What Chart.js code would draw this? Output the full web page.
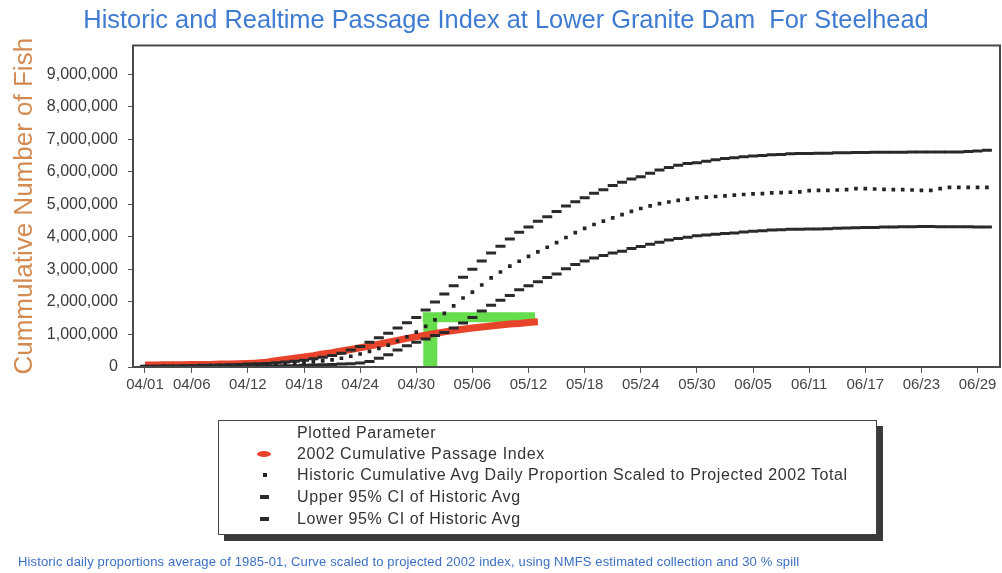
<!DOCTYPE html>
<html>
<head>
<meta charset="utf-8">
<script src="https://cdn.jsdelivr.net/npm/chart.js@4.4.0/dist/chart.umd.min.js"></script>
<style>
  body { margin: 0; background: #fff; font-family: "Liberation Sans", Arial, sans-serif; }
  #wrap { position: relative; width: 1002px; height: 573px; overflow: hidden; }
  #chart { position: absolute; left: 0; top: 0; }
  #legend { position: absolute; left: 218px; top: 420px; width: 659px; height: 115px; box-sizing: border-box;
            border: 1px solid #444; box-shadow: 6px 6px 0 #3a3a3a; background: #fff; font-size: 16px;
            letter-spacing: 0.6px; color: #333; }
  #legend .row { position: absolute; left: 78px; height: 20px; line-height: 20px; white-space: nowrap; }
  #legend .sym { position: absolute; }
  #note { position: absolute; left: 18px; top: 554px; font-size: 13px; letter-spacing: 0.15px; color: #3b6fc2; white-space: nowrap; }
</style>
</head>
<body>
<div id="wrap">
  <canvas id="chart" width="1002" height="573"></canvas>
  <div id="legend"></div>
  <div id="note"></div>
</div>
<script>
// values in millions of fish, one per day starting 04/01
const chartTitle = "Historic and Realtime Passage Index at Lower Granite Dam  For Steelhead";
const yTitle = "Cummulative Number of Fish";
const legendTitle = "Plotted Parameter";
const footNote = "Historic daily proportions average of 1985-01, Curve scaled to projected 2002 index, using NMFS estimated collection and 30 % spill";
const seriesNames = [
  "2002 Cumulative Passage Index",
  "Historic Cumulative Avg Daily Proportion Scaled to Projected 2002 Total",
  "Upper 95% CI of Historic Avg",
  "Lower 95% CI of Historic Avg"
];

const xTickLabels = ["04/01","04/06","04/12","04/18","04/24","04/30","05/06","05/12",
                     "05/18","05/24","05/30","06/05","06/11","06/17","06/23","06/29"];
const yTicks = [0,1,2,3,4,5,6,7,8,9];

const passage2002 = [0.06,0.06,0.07,0.07,0.07,0.08,0.08,0.08,0.09,0.09,
  0.10,0.11,0.12,0.15,0.19,0.23,0.27,0.31,0.35,0.40,
  0.44,0.49,0.54,0.59,0.64,0.70,0.76,0.82,0.88,0.93,
  0.98,1.03,1.08,1.12,1.16,1.20,1.23,1.26,1.29,1.32,
  1.34,1.37,1.39];

const historicAvg = [0.01,0.01,0.02,0.02,0.02,0.03,0.03,0.04,0.04,0.05,
  0.05,0.06,0.07,0.08,0.09,0.10,0.12,0.14,0.16,0.19,
  0.22,0.27,0.33,0.40,0.48,0.57,0.67,0.80,0.93,1.07,
  1.25,1.45,1.65,1.88,2.12,2.30,2.52,2.74,2.92,3.10,
  3.25,3.40,3.54,3.68,3.82,3.98,4.13,4.26,4.38,4.48,
  4.58,4.68,4.78,4.87,4.95,5.02,5.07,5.12,5.16,5.20,
  5.22,5.24,5.26,5.28,5.30,5.32,5.33,5.35,5.36,5.37,
  5.38,5.42,5.43,5.43,5.44,5.45,5.48,5.48,5.47,5.46,
  5.45,5.45,5.44,5.43,5.43,5.48,5.52,5.52,5.52,5.52,5.52];

const upperCI = [0.02,0.02,0.03,0.03,0.04,0.04,0.05,0.05,0.06,0.07,
  0.08,0.09,0.10,0.11,0.13,0.15,0.18,0.21,0.25,0.30,
  0.35,0.42,0.52,0.63,0.76,0.90,1.04,1.20,1.36,1.52,
  1.75,2.00,2.24,2.50,2.76,3.00,3.26,3.50,3.71,3.93,
  4.14,4.30,4.48,4.62,4.78,4.95,5.08,5.20,5.34,5.45,
  5.58,5.68,5.78,5.85,5.95,6.05,6.13,6.20,6.25,6.28,
  6.32,6.37,6.41,6.43,6.46,6.48,6.50,6.52,6.53,6.55,
  6.56,6.56,6.57,6.57,6.58,6.58,6.59,6.59,6.60,6.60,
  6.60,6.60,6.61,6.61,6.61,6.61,6.61,6.61,6.62,6.64,6.66];

const lowerCI = [0.00,0.00,0.01,0.01,0.01,0.01,0.01,0.01,0.02,0.02,
  0.02,0.02,0.02,0.03,0.03,0.04,0.04,0.05,0.06,0.07,
  0.08,0.09,0.10,0.12,0.17,0.27,0.38,0.52,0.65,0.76,
  0.86,0.97,1.06,1.20,1.35,1.52,1.72,1.90,2.05,2.20,
  2.37,2.50,2.62,2.75,2.86,3.02,3.15,3.26,3.35,3.43,
  3.50,3.56,3.64,3.70,3.77,3.83,3.90,3.95,3.99,4.03,
  4.06,4.08,4.10,4.12,4.15,4.17,4.19,4.21,4.22,4.23,
  4.23,4.24,4.24,4.25,4.26,4.27,4.28,4.29,4.29,4.30,
  4.30,4.31,4.31,4.32,4.32,4.31,4.31,4.31,4.31,4.30,4.30];

// green projection marker: day numbers counted from 04/01
const projStartDay = 30.5;
const projBarDays = [29.7, 41.7];
const projLevel = 1.53;

// day labels 04/01 .. 06/30, index = day number
const days = [];
for (let d = new Date(2002, 3, 1); d <= new Date(2002, 5, 30); d.setDate(d.getDate() + 1)) {
  days.push(String(d.getMonth() + 1).padStart(2, "0") + "/" + String(d.getDate()).padStart(2, "0"));
}
const toPoints = arr => arr.map((v, i) => ({ x: i, y: v }));

const frame = {
  id: "frame",
  afterDatasetsDraw(chart) {
    const { ctx, chartArea: a } = chart;
    ctx.save();
    ctx.strokeStyle = "#4a4a4a";
    ctx.lineWidth = 2;
    ctx.strokeRect(a.left, a.top, a.right - a.left, a.bottom - a.top);
    ctx.restore();
  }
};

Chart.defaults.font.family = '"Liberation Sans", Arial, sans-serif';

const chart = new Chart(document.getElementById("chart"), {
  type: "line",
  data: {
    datasets: [
      {
        label: seriesNames[1],
        data: toPoints(historicAvg),
        showLine: false,
        pointStyle: "rect",
        pointRadius: 2.6,
        pointBackgroundColor: "#242424",
        pointBorderWidth: 0,
        order: 0
      },
      {
        label: seriesNames[2],
        data: toPoints(upperCI),
        showLine: false,
        pointStyle: "line",
        pointRadius: 5,
        pointBorderWidth: 3,
        pointBorderColor: "#2a2a2a",
        order: 0
      },
      {
        label: seriesNames[3],
        data: toPoints(lowerCI),
        showLine: false,
        pointStyle: "line",
        pointRadius: 5,
        pointBorderWidth: 3,
        pointBorderColor: "#2a2a2a",
        order: 0
      },
      {
        label: seriesNames[0],
        data: toPoints(passage2002),
        borderColor: "#e8442c",
        borderWidth: 7,
        pointRadius: 0,
        tension: 0,
        order: 1
      },
      {
        label: "projection level",
        data: projBarDays.map(d => ({ x: d, y: projLevel })),
        borderColor: "#66dd4c",
        borderWidth: 10,
        pointRadius: 0,
        order: 2
      },
      {
        label: "projection start",
        data: [{ x: projStartDay, y: 0 }, { x: projStartDay, y: projLevel }],
        borderColor: "#66dd4c",
        borderWidth: 14,
        pointRadius: 0,
        order: 2
      }
    ]
  },
  options: {
    responsive: false,
    animation: false,
    layout: { autoPadding: false, padding: { left: 12, right: 2, top: 0, bottom: 0 } },
    plugins: {
      legend: { display: false },
      tooltip: { enabled: false },
      title: {
        display: true,
        text: chartTitle,
        color: "#3f7bd0",
        font: { size: 25.4, weight: "normal" },
        padding: { top: 6, bottom: 9 }
      }
    },
    scales: {
      x: {
        type: "linear",
        min: -1.28,
        max: 91.4,
        grid: { display: true, drawOnChartArea: false, tickLength: 6, color: "#555" },
        border: { display: false },
        ticks: {
          autoSkip: false, maxRotation: 0, color: "#444", font: { size: 15 }, padding: 3,
          callback: v => days[v]
        },
        afterBuildTicks: s => { s.ticks = xTickLabels.map(l => ({ value: days.indexOf(l) })); },
        afterFit: s => { s.height = 206; s.paddingLeft = 0; s.paddingRight = 0; }
      },
      y: {
        min: 0,
        max: 9.88,
        grid: { display: true, drawOnChartArea: false, tickLength: 5, color: "#555" },
        border: { display: false },
        ticks: {
          color: "#3a3a3a",
          font: { size: 16 },
          padding: 10,
          callback: v => Math.round(v * 1e6).toLocaleString("en-US")
        },
        afterBuildTicks: s => { s.ticks = yTicks.map(v => ({ value: v })); },
        afterFit: s => { s.width = 121; },
        title: {
          display: true,
          text: yTitle,
          color: "#d38b52",
          font: { size: 26, lineHeight: 1.0 },
          padding: { top: 0, bottom: 0 }
        }
      }
    }
  },
  plugins: [frame]
});

// legend box
const legend = document.getElementById("legend");
const rowTops = [2, 23, 44, 66, 88];
const symbols = [
  "left:-40px;top:7px;width:14px;height:6px;border-radius:50%;background:#e8442c;",
  "left:-34px;top:8px;width:4px;height:4px;background:#222;",
  "left:-37px;top:8px;width:9px;height:4px;background:#2a2a2a;",
  "left:-37px;top:8px;width:9px;height:4px;background:#2a2a2a;"
];
let html = '<div class="row" style="top:' + rowTops[0] + 'px">' + legendTitle + '</div>';
seriesNames.forEach((name, i) => {
  html += '<div class="row" style="top:' + rowTops[i + 1] + 'px"><span class="sym" style="' + symbols[i] + '"></span>' + name + '</div>';
});
legend.innerHTML = html;
document.getElementById("note").textContent = footNote;
</script>
</body>
</html>
